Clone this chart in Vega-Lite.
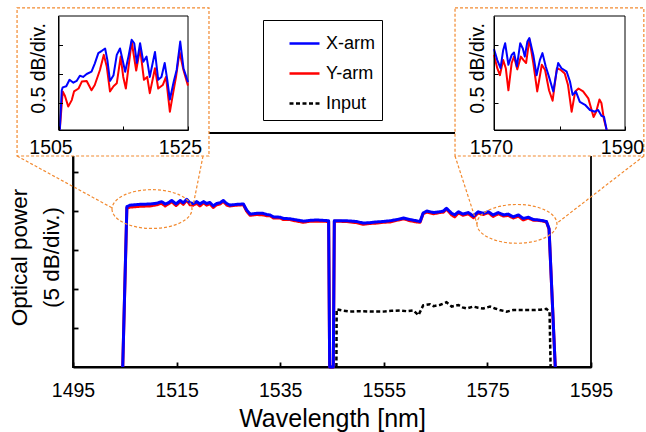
{
"$schema": "https://vega.github.io/schema/vega-lite/v6.json",
"width": 646, "height": 432, "autosize": "none", "padding": 0, "background": "white",
"config": {"view": {"stroke": null}, "font": "Liberation Sans",
 "axis": {"grid": false, "domainColor": "black", "tickColor": "black", "labelColor": "black", "titleColor": "black", "titleFontWeight": "normal", "labelFlush": false, "labelOverlap": false}},
"datasets": {
"main": [
{"s":"Y-arm","wl":1504.6,"p":0},{"s":"Y-arm","wl":1505.4,"p":4.08},{"s":"Y-arm","wl":1506.0,"p":4.10},{"s":"Y-arm","wl":1507.9,"p":4.12},{"s":"Y-arm","wl":1509.9,"p":4.13},{"s":"Y-arm","wl":1511.2,"p":4.16},{"s":"Y-arm","wl":1512.1,"p":4.20},{"s":"Y-arm","wl":1512.8,"p":4.13},{"s":"Y-arm","wl":1513.4,"p":4.18},{"s":"Y-arm","wl":1514.05,"p":4.24},{"s":"Y-arm","wl":1514.9,"p":4.14},{"s":"Y-arm","wl":1515.7,"p":4.24},{"s":"Y-arm","wl":1516.3,"p":4.17},{"s":"Y-arm","wl":1516.95,"p":4.28},{"s":"Y-arm","wl":1517.6,"p":4.16},{"s":"Y-arm","wl":1518.2,"p":4.15},{"s":"Y-arm","wl":1518.9,"p":4.20},{"s":"Y-arm","wl":1519.5,"p":4.13},{"s":"Y-arm","wl":1520.2,"p":4.21},{"s":"Y-arm","wl":1520.8,"p":4.15},{"s":"Y-arm","wl":1521.4,"p":4.19},{"s":"Y-arm","wl":1522.1,"p":4.09},{"s":"Y-arm","wl":1522.7,"p":4.16},{"s":"Y-arm","wl":1523.4,"p":4.18},{"s":"Y-arm","wl":1524.0,"p":4.25},{"s":"Y-arm","wl":1524.7,"p":4.15},{"s":"Y-arm","wl":1525.3,"p":4.13},{"s":"Y-arm","wl":1526.6,"p":4.15},{"s":"Y-arm","wl":1527.9,"p":4.16},{"s":"Y-arm","wl":1528.5,"p":4.00},{"s":"Y-arm","wl":1529.2,"p":3.89},{"s":"Y-arm","wl":1530.5,"p":3.91},{"s":"Y-arm","wl":1531.7,"p":3.90},{"s":"Y-arm","wl":1532.4,"p":3.88},{"s":"Y-arm","wl":1533.0,"p":3.88},{"s":"Y-arm","wl":1533.7,"p":3.82},{"s":"Y-arm","wl":1535.0,"p":3.82},{"s":"Y-arm","wl":1535.6,"p":3.78},{"s":"Y-arm","wl":1536.9,"p":3.78},{"s":"Y-arm","wl":1538.2,"p":3.74},{"s":"Y-arm","wl":1539.5,"p":3.71},{"s":"Y-arm","wl":1540.8,"p":3.74},{"s":"Y-arm","wl":1542.0,"p":3.74},{"s":"Y-arm","wl":1543.2,"p":3.74},{"s":"Y-arm","wl":1544.35,"p":3.73},{"s":"Y-arm","wl":1544.55,"p":0},{"s":"Y-arm","wl":1545.25,"p":0},{"s":"Y-arm","wl":1545.45,"p":3.74},{"s":"Y-arm","wl":1547.8,"p":3.73},{"s":"Y-arm","wl":1549.8,"p":3.70},{"s":"Y-arm","wl":1551.0,"p":3.66},{"s":"Y-arm","wl":1552.3,"p":3.68},{"s":"Y-arm","wl":1553.6,"p":3.69},{"s":"Y-arm","wl":1554.9,"p":3.71},{"s":"Y-arm","wl":1556.2,"p":3.72},{"s":"Y-arm","wl":1557.5,"p":3.76},{"s":"Y-arm","wl":1558.8,"p":3.80},{"s":"Y-arm","wl":1560.1,"p":3.75},{"s":"Y-arm","wl":1561.3,"p":3.72},{"s":"Y-arm","wl":1562.0,"p":3.71},{"s":"Y-arm","wl":1562.6,"p":3.93},{"s":"Y-arm","wl":1563.3,"p":3.97},{"s":"Y-arm","wl":1564.6,"p":3.93},{"s":"Y-arm","wl":1565.8,"p":3.96},{"s":"Y-arm","wl":1566.5,"p":3.97},{"s":"Y-arm","wl":1567.1,"p":4.05},{"s":"Y-arm","wl":1568.1,"p":3.90},{"s":"Y-arm","wl":1568.7,"p":3.85},{"s":"Y-arm","wl":1569.4,"p":3.95},{"s":"Y-arm","wl":1570.3,"p":3.89},{"s":"Y-arm","wl":1571.3,"p":3.93},{"s":"Y-arm","wl":1572.3,"p":3.83},{"s":"Y-arm","wl":1573.2,"p":3.95},{"s":"Y-arm","wl":1574.2,"p":3.91},{"s":"Y-arm","wl":1575.2,"p":3.96},{"s":"Y-arm","wl":1576.1,"p":3.86},{"s":"Y-arm","wl":1577.1,"p":3.93},{"s":"Y-arm","wl":1578.1,"p":3.87},{"s":"Y-arm","wl":1579.0,"p":3.89},{"s":"Y-arm","wl":1580.0,"p":3.82},{"s":"Y-arm","wl":1581.0,"p":3.87},{"s":"Y-arm","wl":1581.9,"p":3.77},{"s":"Y-arm","wl":1582.9,"p":3.82},{"s":"Y-arm","wl":1583.9,"p":3.76},{"s":"Y-arm","wl":1584.8,"p":3.76},{"s":"Y-arm","wl":1585.8,"p":3.74},{"s":"Y-arm","wl":1586.4,"p":3.72},{"s":"Y-arm","wl":1586.9,"p":3.53},{"s":"Y-arm","wl":1588.1,"p":0},
{"s":"X-arm","wl":1504.6,"p":0},{"s":"X-arm","wl":1505.4,"p":4.11},{"s":"X-arm","wl":1506.0,"p":4.15},{"s":"X-arm","wl":1507.9,"p":4.17},{"s":"X-arm","wl":1509.9,"p":4.18},{"s":"X-arm","wl":1511.2,"p":4.20},{"s":"X-arm","wl":1512.1,"p":4.24},{"s":"X-arm","wl":1512.8,"p":4.18},{"s":"X-arm","wl":1513.4,"p":4.21},{"s":"X-arm","wl":1514.05,"p":4.27},{"s":"X-arm","wl":1514.9,"p":4.18},{"s":"X-arm","wl":1515.7,"p":4.27},{"s":"X-arm","wl":1516.3,"p":4.21},{"s":"X-arm","wl":1516.95,"p":4.30},{"s":"X-arm","wl":1517.6,"p":4.21},{"s":"X-arm","wl":1518.2,"p":4.19},{"s":"X-arm","wl":1518.9,"p":4.24},{"s":"X-arm","wl":1519.5,"p":4.18},{"s":"X-arm","wl":1520.2,"p":4.24},{"s":"X-arm","wl":1520.8,"p":4.19},{"s":"X-arm","wl":1521.4,"p":4.22},{"s":"X-arm","wl":1522.1,"p":4.13},{"s":"X-arm","wl":1522.7,"p":4.19},{"s":"X-arm","wl":1523.4,"p":4.21},{"s":"X-arm","wl":1524.0,"p":4.27},{"s":"X-arm","wl":1524.7,"p":4.19},{"s":"X-arm","wl":1525.3,"p":4.15},{"s":"X-arm","wl":1526.6,"p":4.17},{"s":"X-arm","wl":1527.9,"p":4.18},{"s":"X-arm","wl":1528.5,"p":4.03},{"s":"X-arm","wl":1529.2,"p":3.92},{"s":"X-arm","wl":1530.5,"p":3.94},{"s":"X-arm","wl":1531.7,"p":3.94},{"s":"X-arm","wl":1532.4,"p":3.91},{"s":"X-arm","wl":1533.0,"p":3.90},{"s":"X-arm","wl":1533.7,"p":3.85},{"s":"X-arm","wl":1535.0,"p":3.84},{"s":"X-arm","wl":1535.6,"p":3.81},{"s":"X-arm","wl":1536.9,"p":3.80},{"s":"X-arm","wl":1538.2,"p":3.77},{"s":"X-arm","wl":1539.5,"p":3.74},{"s":"X-arm","wl":1540.8,"p":3.76},{"s":"X-arm","wl":1542.0,"p":3.77},{"s":"X-arm","wl":1543.2,"p":3.76},{"s":"X-arm","wl":1544.35,"p":3.75},{"s":"X-arm","wl":1544.55,"p":0},{"s":"X-arm","wl":1545.25,"p":0},{"s":"X-arm","wl":1545.45,"p":3.75},{"s":"X-arm","wl":1547.8,"p":3.75},{"s":"X-arm","wl":1549.8,"p":3.73},{"s":"X-arm","wl":1551.0,"p":3.69},{"s":"X-arm","wl":1552.3,"p":3.70},{"s":"X-arm","wl":1553.6,"p":3.72},{"s":"X-arm","wl":1554.9,"p":3.73},{"s":"X-arm","wl":1556.2,"p":3.75},{"s":"X-arm","wl":1557.5,"p":3.78},{"s":"X-arm","wl":1558.8,"p":3.82},{"s":"X-arm","wl":1560.1,"p":3.78},{"s":"X-arm","wl":1561.3,"p":3.75},{"s":"X-arm","wl":1562.0,"p":3.73},{"s":"X-arm","wl":1562.6,"p":3.95},{"s":"X-arm","wl":1563.3,"p":4.00},{"s":"X-arm","wl":1564.6,"p":3.96},{"s":"X-arm","wl":1565.8,"p":3.98},{"s":"X-arm","wl":1566.5,"p":4.00},{"s":"X-arm","wl":1567.1,"p":4.07},{"s":"X-arm","wl":1568.1,"p":3.94},{"s":"X-arm","wl":1568.7,"p":3.90},{"s":"X-arm","wl":1569.4,"p":3.98},{"s":"X-arm","wl":1570.3,"p":3.92},{"s":"X-arm","wl":1571.3,"p":3.96},{"s":"X-arm","wl":1572.3,"p":3.87},{"s":"X-arm","wl":1573.2,"p":3.98},{"s":"X-arm","wl":1574.2,"p":3.94},{"s":"X-arm","wl":1575.2,"p":3.98},{"s":"X-arm","wl":1576.1,"p":3.90},{"s":"X-arm","wl":1577.1,"p":3.96},{"s":"X-arm","wl":1578.1,"p":3.90},{"s":"X-arm","wl":1579.0,"p":3.92},{"s":"X-arm","wl":1580.0,"p":3.85},{"s":"X-arm","wl":1581.0,"p":3.90},{"s":"X-arm","wl":1581.9,"p":3.81},{"s":"X-arm","wl":1582.9,"p":3.84},{"s":"X-arm","wl":1583.9,"p":3.78},{"s":"X-arm","wl":1584.8,"p":3.77},{"s":"X-arm","wl":1585.8,"p":3.75},{"s":"X-arm","wl":1586.4,"p":3.73},{"s":"X-arm","wl":1586.9,"p":3.55},{"s":"X-arm","wl":1588.1,"p":0},
{"s":"Input","wl":1545.85,"p":0},{"s":"Input","wl":1545.9,"p":1.48},{"s":"Input","wl":1547.0,"p":1.45},{"s":"Input","wl":1548.5,"p":1.42},{"s":"Input","wl":1550.5,"p":1.43},{"s":"Input","wl":1552.5,"p":1.42},{"s":"Input","wl":1554.9,"p":1.42},{"s":"Input","wl":1556.5,"p":1.44},{"s":"Input","wl":1558.1,"p":1.45},{"s":"Input","wl":1559.5,"p":1.43},{"s":"Input","wl":1560.7,"p":1.45},{"s":"Input","wl":1561.7,"p":1.33},{"s":"Input","wl":1562.6,"p":1.58},{"s":"Input","wl":1563.9,"p":1.61},{"s":"Input","wl":1564.6,"p":1.56},{"s":"Input","wl":1565.8,"p":1.59},{"s":"Input","wl":1567.1,"p":1.66},{"s":"Input","wl":1568.1,"p":1.55},{"s":"Input","wl":1569.4,"p":1.59},{"s":"Input","wl":1570.2,"p":1.53},{"s":"Input","wl":1571.0,"p":1.50},{"s":"Input","wl":1572.3,"p":1.55},{"s":"Input","wl":1573.2,"p":1.52},{"s":"Input","wl":1574.2,"p":1.50},{"s":"Input","wl":1575.5,"p":1.55},{"s":"Input","wl":1576.5,"p":1.50},{"s":"Input","wl":1577.4,"p":1.46},{"s":"Input","wl":1578.7,"p":1.42},{"s":"Input","wl":1580.0,"p":1.46},{"s":"Input","wl":1581.9,"p":1.46},{"s":"Input","wl":1583.9,"p":1.46},{"s":"Input","wl":1585.2,"p":1.47},{"s":"Input","wl":1586.4,"p":1.49},{"s":"Input","wl":1587.0,"p":1.42},{"s":"Input","wl":1587.2,"p":0}
],
"insetL": [
{"s":"Y-arm","wl":1505.2,"p":0.035},{"s":"Y-arm","wl":1505.65,"p":0.70},{"s":"Y-arm","wl":1506.0,"p":0.62},{"s":"Y-arm","wl":1506.5,"p":0.44},{"s":"Y-arm","wl":1507.05,"p":0.55},{"s":"Y-arm","wl":1507.4,"p":0.70},{"s":"Y-arm","wl":1508.1,"p":0.75},{"s":"Y-arm","wl":1508.6,"p":0.87},{"s":"Y-arm","wl":1509.35,"p":0.88},{"s":"Y-arm","wl":1510.1,"p":0.72},{"s":"Y-arm","wl":1510.6,"p":0.81},{"s":"Y-arm","wl":1511.4,"p":1.07},{"s":"Y-arm","wl":1512.0,"p":1.33},{"s":"Y-arm","wl":1512.45,"p":1.13},{"s":"Y-arm","wl":1512.95,"p":0.70},{"s":"Y-arm","wl":1513.5,"p":0.79},{"s":"Y-arm","wl":1514.0,"p":0.84},{"s":"Y-arm","wl":1514.6,"p":1.30},{"s":"Y-arm","wl":1515.0,"p":0.95},{"s":"Y-arm","wl":1515.4,"p":0.75},{"s":"Y-arm","wl":1516.3,"p":1.56},{"s":"Y-arm","wl":1517.0,"p":1.06},{"s":"Y-arm","wl":1517.6,"p":1.44},{"s":"Y-arm","wl":1518.2,"p":0.90},{"s":"Y-arm","wl":1518.7,"p":0.95},{"s":"Y-arm","wl":1519.1,"p":0.67},{"s":"Y-arm","wl":1519.9,"p":1.10},{"s":"Y-arm","wl":1520.4,"p":0.75},{"s":"Y-arm","wl":1521.1,"p":0.81},{"s":"Y-arm","wl":1521.6,"p":0.95},{"s":"Y-arm","wl":1522.2,"p":0.35},{"s":"Y-arm","wl":1522.7,"p":0.67},{"s":"Y-arm","wl":1523.15,"p":0.95},{"s":"Y-arm","wl":1523.7,"p":1.38},{"s":"Y-arm","wl":1524.3,"p":1.07},{"s":"Y-arm","wl":1525.0,"p":0.80},
{"s":"X-arm","wl":1505.2,"p":0.035},{"s":"X-arm","wl":1505.5,"p":0.72},{"s":"X-arm","wl":1505.65,"p":0.77},{"s":"X-arm","wl":1506.2,"p":0.79},{"s":"X-arm","wl":1506.7,"p":0.90},{"s":"X-arm","wl":1507.3,"p":0.85},{"s":"X-arm","wl":1507.8,"p":0.88},{"s":"X-arm","wl":1508.3,"p":0.97},{"s":"X-arm","wl":1508.8,"p":0.95},{"s":"X-arm","wl":1509.35,"p":1.00},{"s":"X-arm","wl":1510.1,"p":1.04},{"s":"X-arm","wl":1510.6,"p":1.18},{"s":"X-arm","wl":1511.15,"p":1.36},{"s":"X-arm","wl":1511.7,"p":1.40},{"s":"X-arm","wl":1512.2,"p":1.44},{"s":"X-arm","wl":1512.55,"p":1.24},{"s":"X-arm","wl":1512.95,"p":0.88},{"s":"X-arm","wl":1513.5,"p":0.98},{"s":"X-arm","wl":1514.0,"p":1.33},{"s":"X-arm","wl":1514.5,"p":1.44},{"s":"X-arm","wl":1514.9,"p":1.24},{"s":"X-arm","wl":1515.3,"p":1.04},{"s":"X-arm","wl":1515.8,"p":1.30},{"s":"X-arm","wl":1516.3,"p":1.59},{"s":"X-arm","wl":1516.7,"p":1.53},{"s":"X-arm","wl":1517.1,"p":1.19},{"s":"X-arm","wl":1517.6,"p":1.53},{"s":"X-arm","wl":1518.1,"p":1.21},{"s":"X-arm","wl":1518.6,"p":1.30},{"s":"X-arm","wl":1519.1,"p":0.95},{"s":"X-arm","wl":1519.9,"p":1.38},{"s":"X-arm","wl":1520.4,"p":0.90},{"s":"X-arm","wl":1520.9,"p":0.95},{"s":"X-arm","wl":1521.4,"p":1.19},{"s":"X-arm","wl":1521.8,"p":0.90},{"s":"X-arm","wl":1522.2,"p":0.56},{"s":"X-arm","wl":1522.8,"p":0.87},{"s":"X-arm","wl":1523.25,"p":1.07},{"s":"X-arm","wl":1523.8,"p":1.56},{"s":"X-arm","wl":1524.3,"p":1.10},{"s":"X-arm","wl":1525.0,"p":0.86}
],
"insetR": [
{"s":"Y-arm","wl":1570.0,"p":1.33},{"s":"Y-arm","wl":1570.5,"p":1.10},{"s":"Y-arm","wl":1570.9,"p":0.98},{"s":"Y-arm","wl":1571.4,"p":1.24},{"s":"Y-arm","wl":1571.8,"p":1.10},{"s":"Y-arm","wl":1572.2,"p":0.72},{"s":"Y-arm","wl":1572.7,"p":1.19},{"s":"Y-arm","wl":1573.05,"p":1.30},{"s":"Y-arm","wl":1573.55,"p":1.08},{"s":"Y-arm","wl":1574.1,"p":1.30},{"s":"Y-arm","wl":1574.5,"p":1.24},{"s":"Y-arm","wl":1574.9,"p":1.19},{"s":"Y-arm","wl":1575.4,"p":1.60},{"s":"Y-arm","wl":1576.0,"p":1.19},{"s":"Y-arm","wl":1576.6,"p":0.70},{"s":"Y-arm","wl":1577.3,"p":1.16},{"s":"Y-arm","wl":1577.8,"p":1.07},{"s":"Y-arm","wl":1578.4,"p":0.72},{"s":"Y-arm","wl":1578.95,"p":0.54},{"s":"Y-arm","wl":1579.6,"p":1.10},{"s":"Y-arm","wl":1580.2,"p":1.07},{"s":"Y-arm","wl":1580.8,"p":1.01},{"s":"Y-arm","wl":1581.3,"p":0.81},{"s":"Y-arm","wl":1581.85,"p":0.35},{"s":"Y-arm","wl":1582.4,"p":0.70},{"s":"Y-arm","wl":1582.9,"p":0.75},{"s":"Y-arm","wl":1583.6,"p":0.70},{"s":"Y-arm","wl":1584.4,"p":0.58},{"s":"Y-arm","wl":1585.2,"p":0.26},{"s":"Y-arm","wl":1585.6,"p":0.35},{"s":"Y-arm","wl":1586.1,"p":0.56},{"s":"Y-arm","wl":1586.4,"p":0.50},{"s":"Y-arm","wl":1586.8,"p":0.21},{"s":"Y-arm","wl":1587.2,"p":0.035},
{"s":"X-arm","wl":1570.0,"p":1.43},{"s":"X-arm","wl":1570.5,"p":1.24},{"s":"X-arm","wl":1571.0,"p":1.10},{"s":"X-arm","wl":1571.4,"p":1.41},{"s":"X-arm","wl":1571.7,"p":1.53},{"s":"X-arm","wl":1572.2,"p":1.16},{"s":"X-arm","wl":1572.7,"p":1.33},{"s":"X-arm","wl":1573.05,"p":1.37},{"s":"X-arm","wl":1573.5,"p":1.13},{"s":"X-arm","wl":1574.0,"p":1.53},{"s":"X-arm","wl":1574.4,"p":1.44},{"s":"X-arm","wl":1574.7,"p":1.30},{"s":"X-arm","wl":1575.1,"p":1.56},{"s":"X-arm","wl":1575.4,"p":1.62},{"s":"X-arm","wl":1576.0,"p":1.33},{"s":"X-arm","wl":1576.5,"p":0.98},{"s":"X-arm","wl":1577.0,"p":1.24},{"s":"X-arm","wl":1577.4,"p":1.36},{"s":"X-arm","wl":1577.9,"p":1.13},{"s":"X-arm","wl":1578.4,"p":0.95},{"s":"X-arm","wl":1579.05,"p":0.70},{"s":"X-arm","wl":1579.6,"p":1.07},{"s":"X-arm","wl":1579.8,"p":1.19},{"s":"X-arm","wl":1580.3,"p":1.10},{"s":"X-arm","wl":1581.1,"p":1.04},{"s":"X-arm","wl":1581.6,"p":0.87},{"s":"X-arm","wl":1582.0,"p":0.64},{"s":"X-arm","wl":1582.5,"p":0.70},{"s":"X-arm","wl":1583.1,"p":0.52},{"s":"X-arm","wl":1583.9,"p":0.47},{"s":"X-arm","wl":1584.65,"p":0.38},{"s":"X-arm","wl":1585.4,"p":0.35},{"s":"X-arm","wl":1585.9,"p":0.38},{"s":"X-arm","wl":1586.4,"p":0.28},{"s":"X-arm","wl":1586.8,"p":0.26},{"s":"X-arm","wl":1587.2,"p":0.035}
],
"mframe": [{"wl":1495,"wl2":1595,"p":0,"p2":6}],
"boxes": [{"wl":1484.2,"wl2":1521.25,"p":5.41,"p2":9.21},{"wl":1568.75,"wl2":1605.2,"p":5.41,"p2":9.21}],
"links": [{"wl":1484.2,"p":5.41,"wl2":1502.55,"p2":4.08},{"wl":1520.1,"p":5.41,"wl2":1518.2,"p2":4.15},{"wl":1568.75,"p":5.41,"wl2":1573.0,"p2":3.67},{"wl":1605.2,"p":5.41,"wl2":1588.45,"p2":3.69}],
"ellipses": [{"wl":1510.25,"p":4.05},{"wl":1580.7,"p":3.67}],
"frameL": [{"wl":1505,"wl2":1525,"p":0.035,"p2":2}],
"frameR": [{"wl":1570,"wl2":1590,"p":0.035,"p2":2}]
},
"layer": [
{
 "encoding": {
  "x": {"field": "wl", "type": "quantitative", "title": "Wavelength [nm]",
   "scale": {"domain": [1495, 1595], "range": [73, 591], "nice": false, "zero": false},
   "axis": {"orient": "bottom", "offset": -65, "values": [1495, 1515, 1535, 1555, 1575, 1595], "format": "d", "tickSize": -5, "tickWidth": 1.8, "domainWidth": 1.8, "labelFontSize": 19.5, "labelPadding": 19, "title": "Wavelength [nm]", "titleFontSize": 25, "titleY": 59, "titleBaseline": "alphabetic", "zindex": 0}},
  "y": {"field": "p", "type": "quantitative", "title": "Optical power",
   "scale": {"domain": [0, 6], "range": [367, 133], "nice": false, "zero": false},
   "axis": {"orient": "left", "offset": -73, "values": [1, 2, 3, 4, 5], "labels": false, "tickSize": -5, "tickWidth": 1.8, "domainWidth": 1.8, "title": ["Optical power", "(5 dB/div.)"], "titleFontSize": 22.5, "titleLineHeight": 32, "titleX": -54, "titleY": 257, "titleAlign": "center", "titleBaseline": "middle", "titleAngle": 270, "zindex": 0}}
 },
 "layer": [
  {"data": {"name": "mframe"}, "mark": {"type": "rect", "filled": false, "stroke": "black", "strokeWidth": 1.8}, "encoding": {"x2": {"field": "wl2"}, "y2": {"field": "p2"}}},
  {"data": {"name": "main"}, "transform": [{"filter": "datum.s != 'Input'"}],
   "mark": {"type": "line", "strokeWidth": 3, "strokeJoin": "round"},
   "encoding": {
    "color": {"field": "s", "type": "nominal", "scale": {"domain": ["X-arm", "Y-arm", "Input"], "range": ["#0000ff", "#ff0000", "#000000"]},
     "legend": {"title": null, "orient": "none", "legendX": 263, "legendY": 20, "strokeColor": "black", "padding": 7, "symbolType": "stroke", "symbolSize": 900, "symbolStrokeWidth": 2.5, "symbolOffset": 18, "labelFontSize": 18, "labelOffset": 5, "rowPadding": 4, "labelExpr": "datum.label == 'Input' ? '\u00a0\u00a0' + datum.label : datum.label"}},
    "strokeDash": {"field": "s", "type": "nominal", "scale": {"domain": ["X-arm", "Y-arm", "Input"], "range": [[1, 0], [1, 0], [4, 2.5]]},
     "legend": {"title": null, "orient": "none", "legendX": 263, "legendY": 20, "strokeColor": "black", "padding": 7, "symbolType": "stroke", "symbolSize": 900, "symbolStrokeWidth": 2.5, "symbolOffset": 18, "labelFontSize": 18, "labelOffset": 5, "rowPadding": 4, "labelExpr": "datum.label == 'Input' ? '\u00a0\u00a0' + datum.label : datum.label"}}
   }},
  {"data": {"name": "main"}, "transform": [{"filter": "datum.s == 'Input'"}],
   "mark": {"type": "line", "strokeWidth": 2.5},
   "encoding": {
    "color": {"field": "s", "type": "nominal", "scale": {"domain": ["X-arm", "Y-arm", "Input"], "range": ["#0000ff", "#ff0000", "#000000"]}},
    "strokeDash": {"field": "s", "type": "nominal", "scale": {"domain": ["X-arm", "Y-arm", "Input"], "range": [[1, 0], [1, 0], [4, 2.5]]}}
   }},
  {"data": {"name": "boxes"}, "mark": {"type": "rect", "fill": "white", "stroke": "#f28a30", "strokeWidth": 1.2, "strokeDash": [3, 2]}, "encoding": {"x2": {"field": "wl2"}, "y2": {"field": "p2"}}},
  {"data": {"name": "links"}, "mark": {"type": "rule", "stroke": "#f28a30", "strokeWidth": 1.2, "strokeDash": [3, 2]}, "encoding": {"x2": {"field": "wl2"}, "y2": {"field": "p2"}}},
  {"data": {"name": "ellipses"}, "mark": {"type": "point", "shape": "M-1,0A1,0.485,0,1,0,1,0A1,0.485,0,1,0,-1,0Z", "size": 6400, "filled": false, "stroke": "#f28a30", "strokeWidth": 1.2, "strokeDash": [3, 2], "opacity": 1}}
 ]
},
{
 "encoding": {
  "x": {"field": "wl", "type": "quantitative",
   "scale": {"domain": [1505, 1525], "range": [58.5, 188], "nice": false, "zero": false},
   "axis": {"orient": "bottom", "offset": -302, "values": [1505, 1515, 1525], "format": "d", "labelExpr": "datum.value == 1515 ? '' : datum.label", "tickSize": -4, "tickWidth": 1, "domainWidth": 1, "labelFontSize": 19.5, "labelPadding": 12, "labelOffset": -8, "title": null, "zindex": 1}},
  "y": {"field": "p", "type": "quantitative",
   "scale": {"domain": [0.035, 2], "range": [130, 16], "nice": false, "zero": false},
   "axis": {"orient": "left", "offset": -58.5, "values": [0.5, 1, 1.5], "labels": false, "tickSize": -4, "tickWidth": 1, "domainWidth": 1, "title": "0.5 dB/div.", "titleFontSize": 19.5, "titleX": -20.5, "titleY": 68, "titleAlign": "center", "titleBaseline": "middle", "titleAngle": 270, "zindex": 1}}
 },
 "layer": [
  {"data": {"name": "frameL"}, "mark": {"type": "rect", "filled": false, "stroke": "black", "strokeWidth": 1}, "encoding": {"x2": {"field": "wl2"}, "y2": {"field": "p2"}}},
  {"data": {"name": "insetL"}, "mark": {"type": "line", "strokeWidth": 2, "strokeJoin": "round"},
   "encoding": {"color": {"field": "s", "type": "nominal", "scale": {"domain": ["X-arm", "Y-arm", "Input"], "range": ["#0000ff", "#ff0000", "#000000"]}, "legend": null}}}
 ]
},
{
 "encoding": {
  "x": {"field": "wl", "type": "quantitative",
   "scale": {"domain": [1570, 1590], "range": [494, 625], "nice": false, "zero": false},
   "axis": {"orient": "bottom", "offset": -302, "values": [1570, 1580, 1590], "format": "d", "labelExpr": "datum.value == 1580 ? '' : datum.label", "tickSize": -4, "tickWidth": 1, "domainWidth": 1, "labelFontSize": 19.5, "labelPadding": 12, "labelOffset": -3, "title": null, "zindex": 1}},
  "y": {"field": "p", "type": "quantitative",
   "scale": {"domain": [0.035, 2], "range": [130, 16], "nice": false, "zero": false},
   "axis": {"orient": "left", "offset": -494, "values": [0.5, 1, 1.5], "labels": false, "tickSize": -4, "tickWidth": 1, "domainWidth": 1, "title": "0.5 dB/div.", "titleFontSize": 19.5, "titleX": -17, "titleY": 68, "titleAlign": "center", "titleBaseline": "middle", "titleAngle": 270, "zindex": 1}}
 },
 "layer": [
  {"data": {"name": "frameR"}, "mark": {"type": "rect", "filled": false, "stroke": "black", "strokeWidth": 1}, "encoding": {"x2": {"field": "wl2"}, "y2": {"field": "p2"}}},
  {"data": {"name": "insetR"}, "mark": {"type": "line", "strokeWidth": 2, "strokeJoin": "round"},
   "encoding": {"color": {"field": "s", "type": "nominal", "scale": {"domain": ["X-arm", "Y-arm", "Input"], "range": ["#0000ff", "#ff0000", "#000000"]}, "legend": null}}}
 ]
}
],
"resolve": {"scale": {"x": "independent", "y": "independent"}, "axis": {"x": "independent", "y": "independent"}}
}
